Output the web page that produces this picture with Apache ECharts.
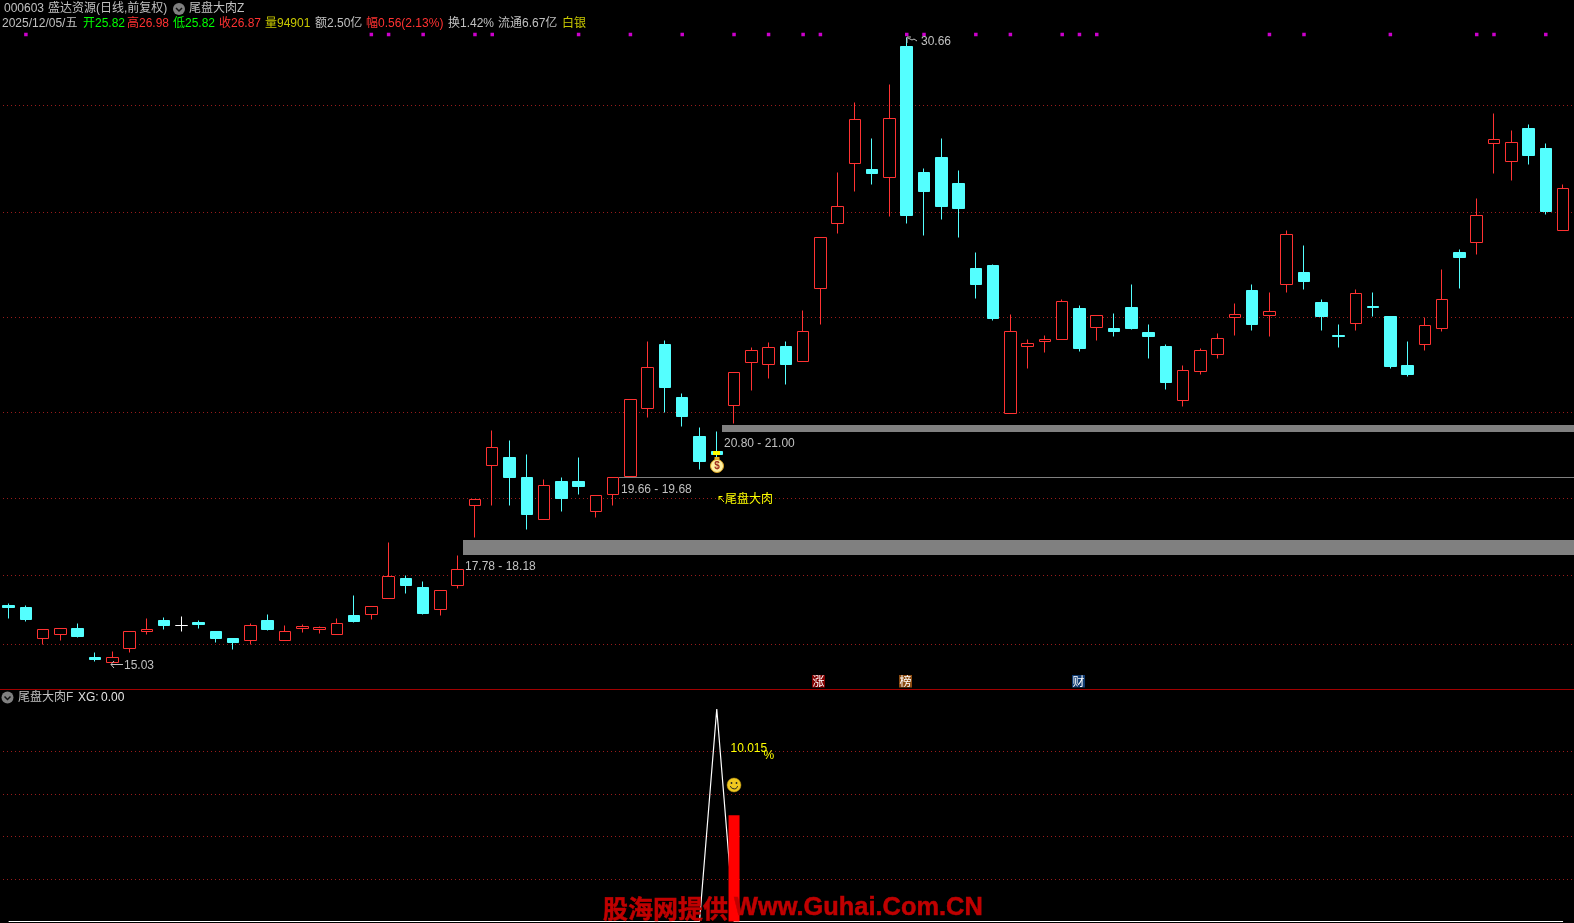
<!DOCTYPE html>
<html><head><meta charset="utf-8">
<style>html,body{margin:0;padding:0;background:#000;overflow:hidden}#c{width:1574px;height:923px}</style>
<script src="https://cdn.jsdelivr.net/npm/echarts@6/dist/echarts.min.js"></script>
</head><body><div id="c"></div>
<script>
const opens=[16.46,16.41,15.62,15.72,15.885,15.16,15.03,15.37,15.79,16.085,15.96,16.035,15.81,15.635,15.57,16.085,15.57,15.87,15.84,15.72,16.21,16.22,16.62,17.135,16.91,16.34,16.94,18.94,19.94,20.16,19.66,18.59,19.56,19.56,18.79,19.22,19.68,21.37,22.985,21.66,20.685,20.31,21.44,22.52,22.47,22.935,22.54,24.37,25.99,27.49,27.36,27.14,30.435,27.285,27.66,27.01,24.885,24.96,21.24,22.92,23.04,23.09,23.885,23.39,23.385,23.91,23.285,22.935,21.57,22.29,22.72,23.64,24.335,23.69,24.47,24.785,24.035,23.19,23.49,23.92,23.685,22.46,22.97,23.37,25.285,25.52,27.99,27.54,28.385,27.885,25.82];
const closes=[16.41,16.11,15.85,15.88,15.685,15.09,15.15,15.80,15.85,15.96,15.96,15.985,15.635,15.535,15.95,15.86,15.80,15.93,15.90,16.0,16.06,16.43,17.18,16.96,16.26,16.83,17.35,19.10,20.40,19.66,18.735,19.45,19.135,19.435,19.20,19.66,21.60,22.40,21.91,21.185,20.06,20.235,22.28,22.83,22.90,22.485,23.30,25.65,26.43,28.60,27.26,28.63,26.21,26.81,26.435,26.385,24.485,23.635,23.30,23.0,23.10,24.05,22.885,23.70,23.31,23.385,23.185,22.035,22.33,22.83,23.13,23.73,23.485,23.80,25.73,24.56,23.685,23.17,24.25,23.90,22.435,22.235,23.45,24.10,25.16,26.20,28.10,28.03,27.71,26.31,26.87];
const highs=[16.50,16.44,15.85,15.88,16.0,15.285,15.31,15.80,16.135,16.16,16.185,16.085,15.81,15.635,16.01,16.235,15.96,15.985,15.935,16.135,16.71,16.43,18.035,17.21,17.06,16.83,17.71,19.10,20.835,20.585,20.235,19.61,19.66,20.16,19.20,19.66,21.60,23.06,23.085,21.76,20.91,20.80,22.28,22.91,23.035,23.06,23.835,25.65,27.285,29.035,28.135,29.485,30.66,27.385,28.135,27.335,25.285,24.985,23.735,23.11,23.21,24.11,23.96,23.70,23.76,24.485,23.485,22.985,22.46,22.885,23.26,24.01,24.485,24.285,25.835,25.46,24.11,23.485,24.36,24.285,23.685,23.06,23.66,24.86,25.36,26.635,28.76,28.335,28.485,28.01,26.98];
const lows=[16.12,16.06,15.485,15.57,15.66,15.04,15.03,15.285,15.735,15.86,15.81,15.885,15.535,15.36,15.47,15.835,15.57,15.77,15.76,15.72,16.02,16.11,16.62,16.76,16.235,16.21,16.885,18.14,18.96,18.96,18.36,18.59,18.81,19.235,18.64,18.96,19.68,21.16,21.285,20.935,19.86,20.1,21.0,21.835,22.135,21.985,22.54,23.485,25.76,26.81,26.985,26.185,26.01,25.71,26.11,25.66,24.135,23.585,21.24,22.385,22.785,23.09,22.81,23.085,23.185,23.36,22.635,21.86,21.435,22.235,22.635,23.21,23.335,23.185,24.285,24.36,23.335,22.91,23.335,23.685,22.385,22.185,22.835,23.31,24.385,25.235,27.26,27.085,27.485,26.235,25.82];

const priceLevels=[28.95,26.29,23.65,21.28,19.13,17.2,15.48];
const dotIndexes=[1,21,22,24,27,28,33,36,39,42,44,46,47,52,53,56,58,61,62,63,73,75,80,85,86,89];
const dotLevel=30.725;
const bandStarts=[26,35,41];
const bandLows=[17.72,19.65,20.785];
const bandHighs=[18.085,19.66,20.96];
const bandCaptions=['17.78 - 18.18','19.66 - 19.68','20.80 - 21.00'];
const xgLine=[0,0,0,0,0,0,0,0,0,0,0,0,0,0,0,0,0,0,0,0,0,0,0,0,0,0,0,0,0,0,0,0,0,0,0,0,0,0,0,0,0,100,0,0,0,0,0,0,0,0,0,0,0,0,0,0,0,0,0,0,0,0,0,0,0,0,0,0,0,0,0,0,0,0,0,0,0,0,0,0,0,0,0,0,0,0,0,0,0,0,0];
const xgBarIndex=42, xgBarValue=50;
const xgLevels=[20,40,60,80];
const categories=opens.map((_,i)=>String(i));
const headerTop=[['000603',4,'#c0c0c0'],['盛达资源(日线,前复权)',48,'#c0c0c0'],['尾盘大肉Z',189,'#c0c0c0']];
const headerLine=[['2025/12/05/五',2,'#c0c0c0'],['开',83,'#00ff00'],['25.82',95,'#00ff00'],['高',127,'#ff3232'],['26.98',139,'#ff3232'],['低',173,'#00ff00'],['25.82',185,'#00ff00'],['收',219,'#ff3232'],['26.87',231,'#ff3232'],['量',265,'#c8c800'],['94901',277,'#c8c800'],['额',315,'#c0c0c0'],['2.50亿',327,'#c0c0c0'],['幅',366,'#ff3232'],['0.56(2.13%)',378,'#ff3232'],['换',448,'#c0c0c0'],['1.42%',460,'#c0c0c0'],['流通',498,'#c0c0c0'],['6.67亿',522,'#c0c0c0'],['白银',562,'#c8c800']];
const badges=[['涨',812,'#800000'],['榜',899,'#8a4a10'],['财',1072,'#103a70']];

const FONT='12px "Liberation Sans","Noto Sans CJK SC"';
const GRAY='#c0c0c0';
const txt=(t,x,y,fill,font,extra)=>({type:'text',x,y,z:50,silent:true,style:Object.assign({text:t,fill:fill,font:font||FONT,align:'left',verticalAlign:'middle'},extra||{})});
const pl=(pts,stroke,w,z)=>({type:'polyline',z:z||50,silent:true,shape:{points:pts},style:{stroke,fill:null,lineWidth:w||1}});
const chevronIcon=(x,y)=>[
 {type:'circle',z:50,silent:true,shape:{cx:x,cy:y,r:6},style:{fill:'#808080'}},
 pl([[x-3,y-1],[x,y+2],[x+3,y-1]],'#111',1.5,51)];
const graphic=[];
headerTop.forEach(h=>graphic.push(txt(h[0],h[1],9,h[2])));
headerLine.forEach(h=>graphic.push(txt(h[0],h[1],23.5,h[2])));
graphic.push(...chevronIcon(179,9),...chevronIcon(7.5,697.5));
graphic.push(txt('尾盘大肉F',18,697.5,GRAY),txt('XG:',78,697.5,'#e0e0e0'),txt('0.00',101,697.5,'#e8e8e8'));
graphic.push({type:'rect',z:40,silent:true,shape:{x:0,y:689,width:1574,height:1},style:{fill:'#a00000'}});
graphic.push(txt('30.66',921,42,GRAY),pl([[907,43],[907,37],[911,37]],GRAY),pl([[908,38],[912,40],[914,39],[917,41]],GRAY));
graphic.push(txt('15.03',124,665.5,GRAY),pl([[111,664.5],[123,664.5]],GRAY),pl([[114,661],[111,664.5],[114,668]],GRAY));
graphic.push(txt('尾盘大肉',725,500,'#ffff00'),pl([[724,502],[719,496.5]],'#ffff00'),pl([[719,500],[719,496.5],[722.5,496.5]],'#ffff00'));
graphic.push({type:'rect',z:50,silent:true,shape:{x:713,y:451,width:7,height:4},style:{fill:'#ffff00'}});
graphic.push({type:'rect',z:50,silent:true,shape:{x:714.5,y:457,width:5,height:3},style:{fill:'#e8b020'}});
graphic.push({type:'circle',z:50,silent:true,shape:{cx:717,cy:466,r:6.5},style:{fill:'#fff0a0',stroke:'#d8a020',lineWidth:1}});
graphic.push(txt('$',717,466,'#a03020','bold 10px "Liberation Sans"',{align:'center'}));
graphic.push(txt('10.015',730.5,748.7,'#ffff00'),txt('%',763.5,755.7,'#ffff00'));
graphic.push({type:'circle',z:50,silent:true,shape:{cx:734,cy:785,r:7},style:{fill:'#f0c820',stroke:'#b89010',lineWidth:0.5}});
graphic.push({type:'circle',z:51,silent:true,shape:{cx:731.5,cy:783,r:0.9},style:{fill:'#222'}},{type:'circle',z:51,silent:true,shape:{cx:736.5,cy:783,r:0.9},style:{fill:'#222'}});
graphic.push({type:'arc',z:51,silent:true,shape:{cx:734,cy:785,r:3.8,startAngle:0.3,endAngle:Math.PI-0.3},style:{stroke:'#222',fill:null,lineWidth:1}});
badges.forEach(b=>{
 graphic.push({type:'rect',z:50,silent:true,shape:{x:b[1],y:675,width:13,height:12.5},style:{fill:b[2]}});
 graphic.push(txt(b[0],b[1]+0.5,681.5,'#ffffff','12px "Noto Sans CJK SC"'));
});
const wm={stroke:'#c00000',lineWidth:0.5};
graphic.push(txt('股海网提供',603,908,'#c00000','bold 25px "Noto Sans CJK SC"',wm));
graphic.push(txt('Www.Guhai.Com.CN',734,908,'#c00000','bold 25.4px "Liberation Sans"',wm));

// prices sit on whole screen rows (40 rows per yuan), as in the reference's bitmap drawing
const snap=p=>Math.round(p*40)/40;
const dotted={type:[1,3],color:'#9a1c1c',width:1};
const ruleLine=(levels)=>({silent:true,symbol:'none',z:1,label:{show:false},lineStyle:dotted,animation:false,data:levels.map(v=>({yAxis:v}))});
const paneMain={top:7.5,height:680}, paneXg={top:709,height:212.5};
const yMain={min:14.4,max:31.4}, yXg={min:0,max:100};
const option={
 backgroundColor:'#000',animation:false,
 grid:[
  Object.assign({left:-1.3,width:1573},paneMain),Object.assign({left:-1.3,width:1573},paneXg),
  Object.assign({left:3,width:1571},paneMain),Object.assign({left:3,width:1571},paneXg)],
 xAxis:[0,1,2,3].map(g=>({type:'category',gridIndex:g,data:categories,show:false,boundaryGap:true})),
 yAxis:[0,1,2,3].map(g=>Object.assign({type:'value',gridIndex:g,show:false,splitLine:{show:false}},g%2?yXg:yMain)),
 series:[
  {type:'line',xAxisIndex:2,yAxisIndex:2,data:[],z:1,markLine:ruleLine(priceLevels)},
  {type:'line',xAxisIndex:3,yAxisIndex:3,data:[],z:1,markLine:ruleLine(xgLevels)},
  {type:'candlestick',xAxisIndex:0,yAxisIndex:0,z:3,barWidth:12,clip:false,silent:true,
   data:opens.map((o,i)=>[snap(o),snap(closes[i]),snap(lows[i]),snap(highs[i])]),
   itemStyle:{color:'#000000',color0:'#54ffff',borderColor:'#ff3232',borderColor0:'#54ffff',borderColorDoji:'#ffffff',borderWidth:1}},
  {type:'custom',xAxisIndex:0,yAxisIndex:0,z:4,clip:false,silent:true,
   encode:{x:0,y:[1,2]},
   data:bandStarts.map((s,i)=>[s,bandLows[i],bandHighs[i]]),
   renderItem:(params,api)=>{
     const left=Math.round(api.coord([api.value(0),0])[0]+api.size([1,0])[0]*0.32);
     const yTop=Math.round(api.coord([0,api.value(2)])[1]);
     const yBot=Math.max(yTop+1,Math.round(api.coord([0,api.value(1)])[1]));
     return {type:'group',children:[
       {type:'rect',shape:{x:left,y:yTop,width:1574-left,height:yBot-yTop},style:{fill:'#808080'}},
       {type:'text',x:left+2,y:yBot+11.5,style:{text:bandCaptions[params.dataIndex],fill:GRAY,font:FONT,align:'left',verticalAlign:'middle'}}
     ]};
   }},
  {type:'scatter',xAxisIndex:0,yAxisIndex:0,z:5,symbol:'rect',symbolSize:3.5,silent:true,clip:false,
   data:dotIndexes.map(i=>[i,dotLevel]),itemStyle:{color:'#ff00ff'}},
  {type:'line',xAxisIndex:1,yAxisIndex:1,z:3,data:xgLine,symbol:'none',showSymbol:false,clip:false,silent:true,
   lineStyle:{color:'#ffffff',width:1.2}},
  {type:'bar',xAxisIndex:1,yAxisIndex:1,z:4,barWidth:11,silent:true,
   data:xgLine.map((_,i)=>i===xgBarIndex?xgBarValue:null),itemStyle:{color:'#ff0000'}}
 ],
 graphic:{elements:graphic}
};
const chart=echarts.init(document.getElementById('c'),null,{renderer:'canvas',width:1574,height:923});
chart.setOption(option);
</script>
</body></html>
